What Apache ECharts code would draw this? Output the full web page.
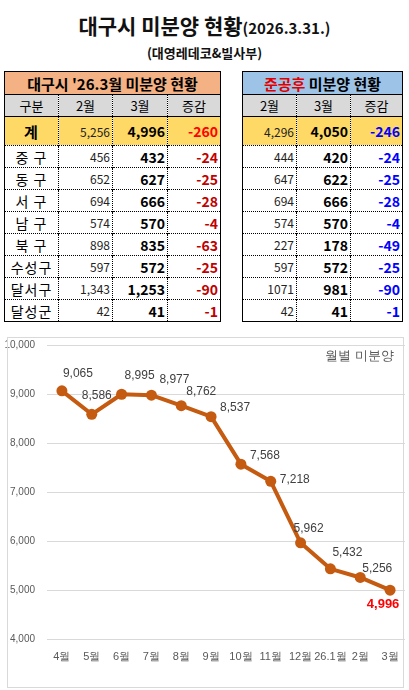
<!DOCTYPE html>
<html><head><meta charset="utf-8">
<script src="https://cdn.jsdelivr.net/npm/echarts@6/dist/echarts.min.js"></script>
<style>
body{margin:0;width:409px;height:690px;background:#fff;font-family:"Noto Sans CJK KR","Noto Sans",sans-serif;position:relative;overflow:hidden}
#t1{position:absolute;top:10px;left:0;width:409px;text-align:center;font-size:21px;font-weight:bold;color:#111}
#t1 span{font-size:15px}
#t2{position:absolute;top:43px;left:0;width:409px;text-align:center;font-size:13px;font-weight:bold;color:#111}
table{position:absolute;border-collapse:collapse;top:71px;table-layout:fixed}
td{padding:0 2px;border-left:1px dotted #000;border-top:1px dotted #000;white-space:nowrap;overflow:hidden}
.hd td{height:22px;font-size:15px;font-weight:bold;text-align:center;border:none}
.ch td{height:21px;background:#d9d9d9;text-align:center;font-size:13px;border-top:1px solid #000}
.tot td{height:28px;background:#FFD966;border-top:1px solid #000}
.r td{height:21px}
.a{text-align:right;font-size:12px;color:#222}
.b{text-align:right;font-size:14px;font-weight:bold;color:#000}
.c{text-align:right;font-size:14px;font-weight:bold}
.n{text-align:center;font-size:14px;letter-spacing:1px}
#chart{position:absolute;left:7px;top:337px;width:397px;height:351px;border:1px solid #d9d9d9;box-sizing:border-box}
</style></head><body>
<div id="t1">대구시 미분양 현황<span>(2026.3.31.)</span></div>
<div id="t2">(대영레데코&amp;빌사부)</div>
<table id="L" style="left:4px;width:216px;border:1px solid #000"></table>
<table id="R" style="left:242px;width:160px;border:1px solid #000"></table>
<div id="chart" style="left:0;top:337px;width:409px;height:353px;border:none"></div>
<div style="position:absolute;left:7px;top:337px;width:397px;height:351px;border:1px solid #d9d9d9;pointer-events:none;box-sizing:border-box"></div>
<script>
const districts=["중 구","동 구","서 구","남 구","북 구","수성구","달서구","달성군"];
const leftFeb=["5,256","456","652","694","574","898","597","1,343","42"];
const leftMar=["4,996","432","627","666","570","835","572","1,253","41"];
const leftDiff=["-260","-24","-25","-28","-4","-63","-25","-90","-1"];
const rightFeb=["4,296","444","647","694","574","227","597","1071","42"];
const rightMar=["4,050","420","622","666","570","178","572","981","41"];
const rightDiff=["-246","-24","-25","-28","-4","-49","-25","-90","-1"];
const months=["4월","5월","6월","7월","8월","9월","10월","11월","12월","26.1월","2월","3월"];
const unsold=[9065,8586,8995,8977,8762,8537,7568,7218,5962,5432,5256,4996];
const labelOffsets=[[16,-17],[5,-19],[18,-19],[23,-15],[20,-14],[24,-9],[24,-8],[24,-2],[8,-14],[17,-16],[17,-9],[-7,14]];

function build(id,hasName,feb,mar,diff,dc,title){
  let h='';
  const cols=hasName?'<col style="width:54px"><col style="width:54px"><col style="width:55px"><col style="width:53px">':'<col style="width:54px"><col style="width:54px"><col style="width:52px">';
  h+=cols;
  h+=`<tr class="hd"><td colspan="${hasName?4:3}" style="background:${hasName?'#F4B183':'#9DC3E6'}">${title}</td></tr>`;
  h+='<tr class="ch">'+(hasName?'<td>구분</td>':'')+'<td>2월</td><td>3월</td><td>증감</td></tr>';
  const names=['계',...districts];
  for(let i=0;i<names.length;i++){
    const cls=i===0?'tot':'r';
    const col=i===0?(hasName?'#FF0000':'#0000FF'):dc;
    const nm=i===0?'<td class="n" style="font-weight:bold;font-size:15px">계</td>':`<td class="n">${names[i]}</td>`;
    h+=`<tr class="${cls}">`+(hasName?nm:'')+`<td class="a">${feb[i]}</td><td class="b">${mar[i]}</td><td class="c" style="color:${col}">${diff[i]}</td></tr>`;
  }
  document.getElementById(id).innerHTML=h;
}
build('L',true,leftFeb,leftMar,leftDiff,'#C00000',"대구시 '26.3월 미분양 현황");
build('R',false,rightFeb,rightMar,rightDiff,'#0000FF','<span style="color:#E00000">준공후</span> 미분양 현황');

const chart=echarts.init(document.getElementById('chart'));
chart.setOption({
  animation:false,
  title:{text:'월별 미분양',right:10,top:8,textStyle:{fontSize:13,fontWeight:'normal',color:'#595959'}},
  grid:{left:47,right:4,top:8,bottom:51},
  xAxis:{type:'category',data:months,axisLine:{show:false},axisTick:{show:false},
    axisLabel:{color:'#595959',fontSize:11,margin:12,interval:0}},
  yAxis:{type:'value',min:4000,max:10000,interval:1000,
    axisLabel:{color:'#595959',fontSize:10,margin:12,formatter:v=>v.toLocaleString('en-US')},
    splitLine:{lineStyle:{color:'#d9d9d9'}}},
  series:[{type:'line',symbol:'circle',symbolSize:11,
    lineStyle:{color:'#C55A11',width:4},itemStyle:{color:'#C55A11'},
    data:unsold.map((v,i)=>({value:v,label:{show:true,position:'inside',offset:labelOffsets[i],
      formatter:p=>p.value.toLocaleString('en-US'),
      color:i===unsold.length-1?'#FF0000':'#404040',
      fontWeight:i===unsold.length-1?'bold':'normal',fontSize:i===unsold.length-1?13:12}}))}]
});
</script>
</body></html>
